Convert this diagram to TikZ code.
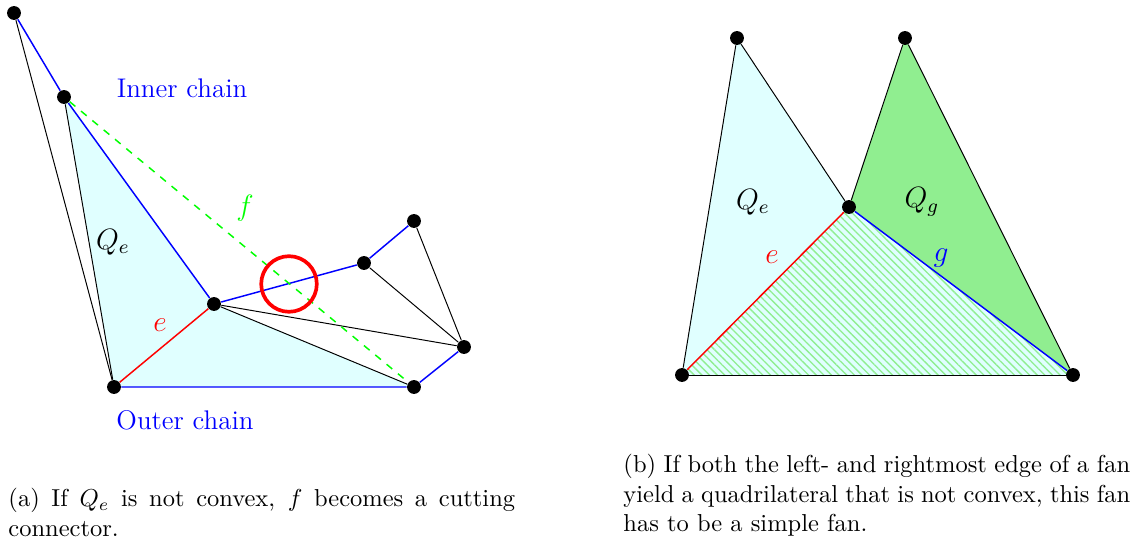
\documentclass[tikz,border=0pt]{standalone}
\usetikzlibrary{patterns.meta,backgrounds}
\definecolor{hellgruen}{RGB}{144,238,144}
\definecolor{hellcyan}{RGB}{224,255,255}
\tikzset{
    punkt/.style={circle, fill, inner sep=2pt},
    kante/.style={semithick},
    kette/.style={blue, font=\fontsize{11}{13}\selectfont},
    beschr/.style={font=\large},
    unterschrift/.style={text width=7.27cm, align=justify, inner sep=0pt, anchor=north west}
}
\begin{document}
\begin{tikzpicture}[x=0.7174cm, y=0.7174cm]
    \useasboundingbox (0,0) rectangle (22.68,10.84);
    % (a) inner and outer chain
    \path node[punkt] (a1) at (0.28,10.58) {}
        node[punkt] (a2) at (1.28,8.90) {}
        node[punkt] (a3) at (4.28,4.76) {}
        node[punkt] (a4) at (2.28,3.10) {}
        node[punkt] (a5) at (8.28,3.10) {}
        node[punkt] (a6) at (9.28,3.90) {}
        node[punkt] (a7) at (7.28,5.58) {}
        node[punkt] (a8) at (8.28,6.42) {};
    \begin{scope}[on background layer]
        \fill[hellcyan] (a2.center) -- (a3.center) -- (a5.center) -- (a4.center) -- cycle;
    \end{scope}
    \draw (a1) -- (a4);
    \draw (a2) -- (a4);
    \draw (a3) -- (a5);
    \draw (a3) -- (a6);
    \draw (a7) -- (a6);
    \draw (a8) -- (a6);
    \draw[kante, blue] (a1) -- (a2) -- (a3) -- (a7) -- (a8);
    \draw[kante, blue] (a4) -- (a5) -- (a6);
    \draw[kante, red] (a4) -- (a3);
    \draw[kante, green, dashed] (a2) -- (a5);
    \draw[red, line width=1.5pt] (5.78,5.16) circle (0.556);
    \node[kette] (innen) at (3.64,9.08) {Inner chain};
    \node[kette] (aussen) at (3.70,2.44) {Outer chain};
    \node[beschr, green] (f) at (4.90,6.68) {$f$};
    \node[beschr] (qe) at (2.26,6.00) {$Q_e$};
    \node[beschr, red] (e) at (3.20,4.34) {$e$};
    \node[unterschrift] (capa) at (0.16,1.08)
        {(a) If $Q_e$ is not convex, $f$ becomes a cutting connector.};
    % (b) simple fan
    \path node[punkt] (b1) at (13.64,3.34) {}
        node[punkt] (b2) at (14.74,10.08) {}
        node[punkt] (b3) at (16.98,6.70) {}
        node[punkt] (b4) at (18.10,10.08) {}
        node[punkt] (b5) at (21.46,3.34) {};
    \begin{scope}[on background layer]
        \fill[hellcyan] (b1.center) -- (b2.center) -- (b3.center) -- (b5.center) -- cycle;
        \fill[pattern={Lines[angle=-45, distance=2.2pt, line width=0.55pt]}, pattern color=hellgruen]
            (b1.center) -- (b3.center) -- (b5.center) -- cycle;
        \fill[hellgruen] (b3.center) -- (b4.center) -- (b5.center) -- cycle;
    \end{scope}
    \draw (b1) -- (b2) -- (b3) -- (b4) -- (b5);
    \draw (b1) -- (b5);
    \draw[kante, red] (b1) -- (b3);
    \draw[kante, blue] (b3) -- (b5);
    \node[beschr] (qeb) at (15.06,6.80) {$Q_e$};
    \node[beschr] (qg) at (18.44,6.80) {$Q_g$};
    \node[beschr, red] (eb) at (15.44,5.70) {$e$};
    \node[beschr, blue] (g) at (18.82,5.68) {$g$};
    \node[unterschrift] (capb) at (12.46,1.76)
        {(b) If both the left- and rightmost edge of a fan yield a quadrilateral that is not convex, this fan has to be a simple fan.};
\end{tikzpicture}
\end{document}
